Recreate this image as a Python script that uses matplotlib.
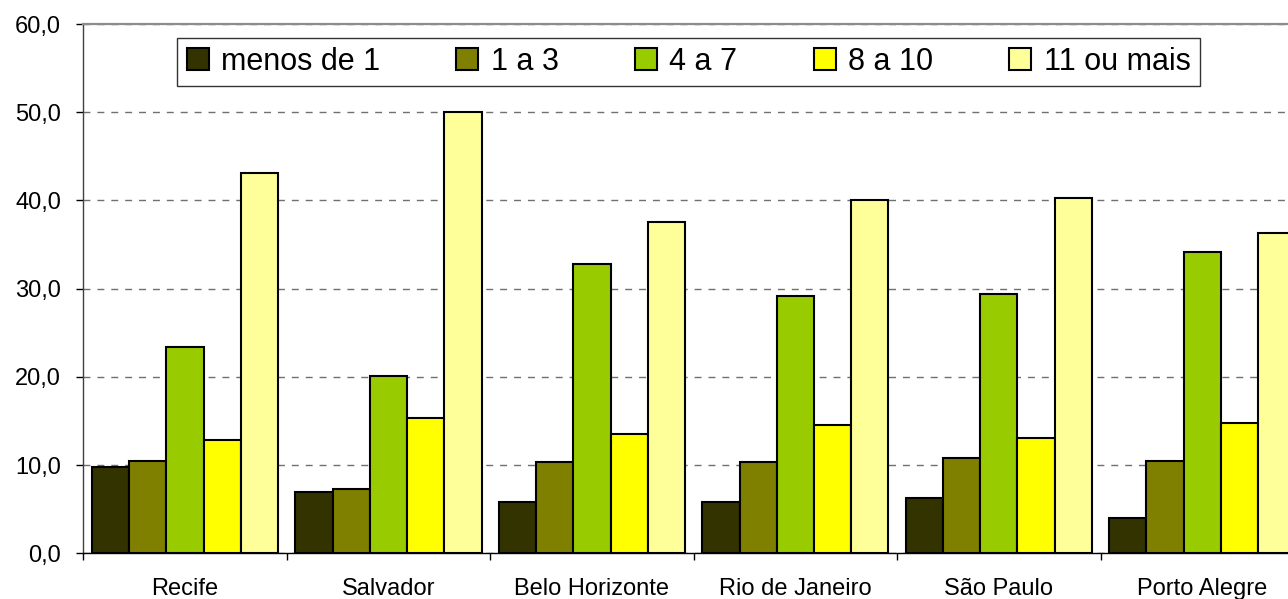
import matplotlib
matplotlib.use("Agg")
import matplotlib.pyplot as plt
import numpy as np
from matplotlib.ticker import FixedLocator, FuncFormatter

plt.rcParams['font.family'] = ['Liberation Sans', 'DejaVu Sans']

categories = ["Recife", "Salvador", "Belo Horizonte", "Rio de Janeiro", "São Paulo", "Porto Alegre"]
series_names = ["menos de 1", "1 a 3", "4 a 7", "8 a 10", "11 ou mais"]
menos_de_1 = [9.8, 7.0, 5.8, 5.8, 6.3, 4.0]
um_a_3 = [10.5, 7.3, 10.3, 10.3, 10.8, 10.5]
quatro_a_7 = [23.4, 20.1, 32.8, 29.2, 29.4, 34.2]
oito_a_10 = [12.8, 15.3, 13.5, 14.6, 13.1, 14.8]
onze_ou_mais = [43.1, 50.0, 37.5, 40.0, 40.3, 36.3]
yticks = [0, 10, 20, 30, 40, 50, 60]

series = [menos_de_1, um_a_3, quatro_a_7, oito_a_10, onze_ou_mais]
colors = ["#333300", "#808000", "#99CC00", "#FFFF00", "#FFFF99"]

W, H = 1288, 599
fig = plt.figure(figsize=(W / 100, H / 100), dpi=100)
left_px, right_px = 83.3, 1304.0
bottom_px, top_px = 553.3, 24.0
ax = fig.add_axes([left_px / W, 1 - bottom_px / H,
                   (right_px - left_px) / W, (bottom_px - top_px) / H])

x = np.arange(len(categories))
bw = 0.183
for i, (vals, col, name) in enumerate(zip(series, colors, series_names)):
    ax.bar(x + (i - 2) * bw, vals, width=bw, color=col, edgecolor="black",
           linewidth=1.5, label=name, zorder=3)

ax.set_xlim(-0.5, len(categories) - 0.5)
ax.set_ylim(0, 60)
ax.yaxis.set_major_locator(FixedLocator(yticks))
ax.yaxis.set_major_formatter(FuncFormatter(lambda v, p: f"{v:.1f}".replace(".", ",")))
ax.grid(axis="y", color="#707070", linestyle=(0, (5, 5)), linewidth=1.0, zorder=0)
ax.set_axisbelow(True)

# x ticks: major at group boundaries (marks), minor at centers (labels)
ax.set_xticks(np.arange(-0.5, len(categories) + 0.5, 1.0))
ax.set_xticklabels([])
ax.set_xticks(x, minor=True)
ax.set_xticklabels(categories, minor=True)
ax.tick_params(axis="x", which="major", direction="out", length=5, width=1, color="black")
ax.tick_params(axis="x", which="minor", length=0, pad=18, labelsize=17)
ax.tick_params(axis="y", direction="out", length=5, width=1, color="black", pad=11, labelsize=17)

ax.spines["right"].set_visible(False)
ax.spines["top"].set_color("#8c8c8c")
ax.spines["top"].set_linewidth(1.6)
ax.spines["left"].set_color("#404040")
ax.spines["left"].set_linewidth(1.0)
ax.spines["bottom"].set_color("black")
ax.spines["bottom"].set_linewidth(1.0)

leg = ax.legend(loc="upper center", bbox_to_anchor=(0.4958, 0.974), ncol=5,
                fontsize=22, frameon=True, fancybox=False, shadow=False,
                handlelength=0.72, handleheight=0.72, handletextpad=0.4,
                columnspacing=2.5, borderpad=0.3, borderaxespad=0)
leg.get_frame().set_edgecolor("black")
leg.get_frame().set_linewidth(1.0)
for h in leg.legend_handles:
    h.set_linewidth(1.5)

fig.savefig("out.png", dpi=100)
